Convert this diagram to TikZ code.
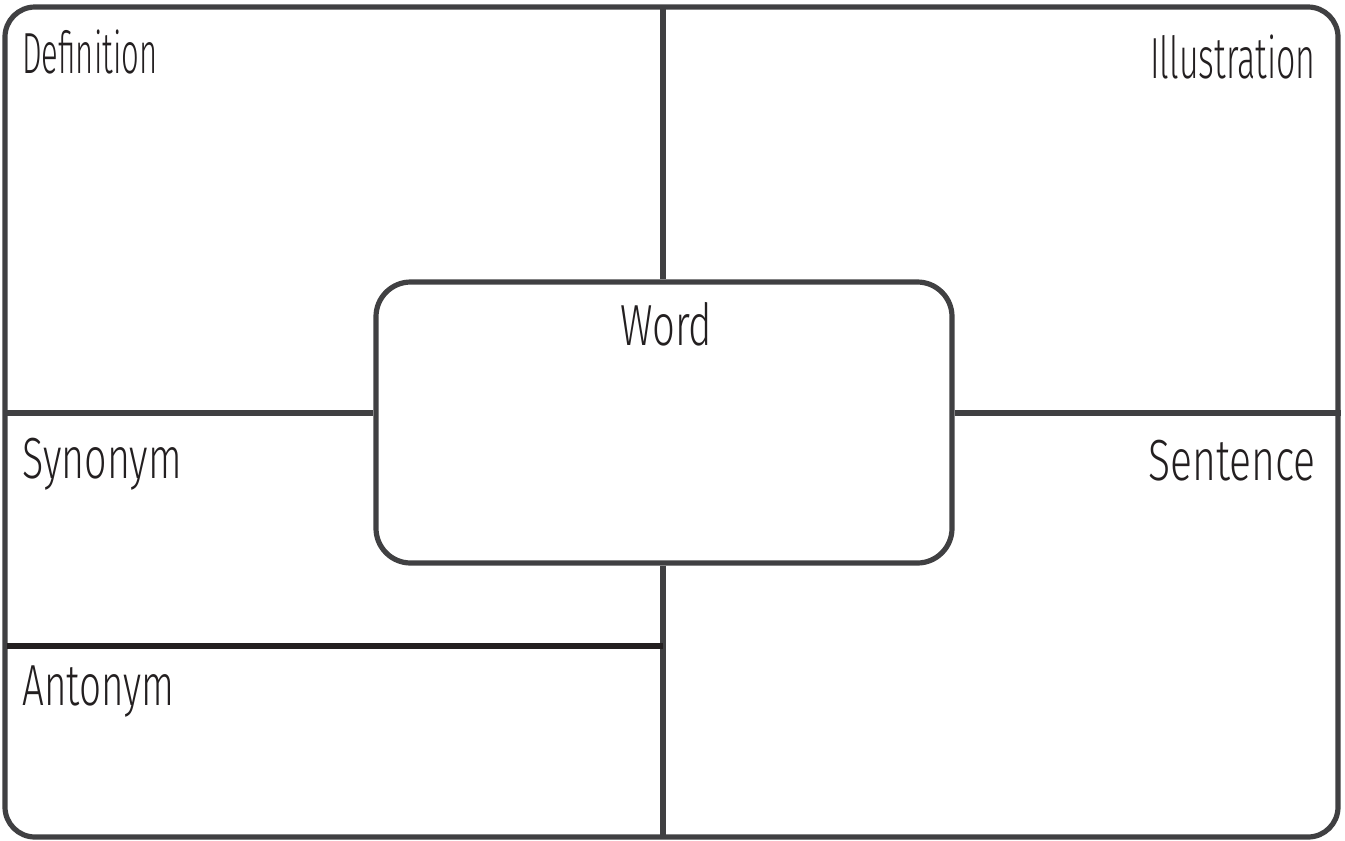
\documentclass[tikz,border=0pt]{standalone}
\usepackage{fontspec}
\newfontfamily\hand{Fira Sans Light}
\definecolor{frameline}{HTML}{404042}
\definecolor{ink}{HTML}{231F20}
\newcommand{\sq}[2]{\scalebox{#1}[1]{#2}}
\begin{document}
\begin{tikzpicture}[x=0.75pt,y=-0.75pt,
  frame/.style={draw=frameline,line width=3.9pt,rounded corners=22.5pt,inner sep=0pt},
  divider/.style={draw=frameline,line width=3.9pt},
  darkdivider/.style={draw=ink,line width=3.9pt},
  label/.style={inner sep=0pt,text=ink,font=\hand\fontsize{43.5}{50}\selectfont}]
\useasboundingbox (0,0) rectangle (1345,840);
\node[frame,minimum width=1333*0.75pt,minimum height=830*0.75pt] (outer) at (671.5,422) {};
\node[frame,rounded corners=26pt,minimum width=576*0.75pt,minimum height=281*0.75pt] (word) at (664,422.5) {};
\coordinate (vtop) at (663,9);
\coordinate (vbot) at (663,835);
\coordinate (hmid) at (7,413);
\coordinate (hlow) at (7,646);
\draw[divider] (vtop) -- (vtop |- word.north);
\draw[divider] (vbot |- word.south) -- (vbot);
\draw[divider] (hmid) -- (hmid -| word.west);
\draw[divider] (hmid -| word.east) -- (hmid -| outer.east);
\draw[darkdivider] (hlow) -- (hlow -| vtop);
\node[label,anchor=base west] (def) at (22,73) {\sq{0.535}{Definition}};
\node[label,anchor=base east] (ill) at (1316,78) {\sq{0.585}{Illustration}};
\node[label,anchor=base west] (wd) at (620,345) {\sq{0.69}{Word}};
\node[label,anchor=base west] (syn) at (22,478) {\sq{0.68}{Synonym}};
\node[label,anchor=base east] (sen) at (1316,480) {\sq{0.705}{Sentence}};
\node[label,anchor=base west] (ant) at (22,705) {\sq{0.665}{Antonym}};
\end{tikzpicture}
\end{document}
